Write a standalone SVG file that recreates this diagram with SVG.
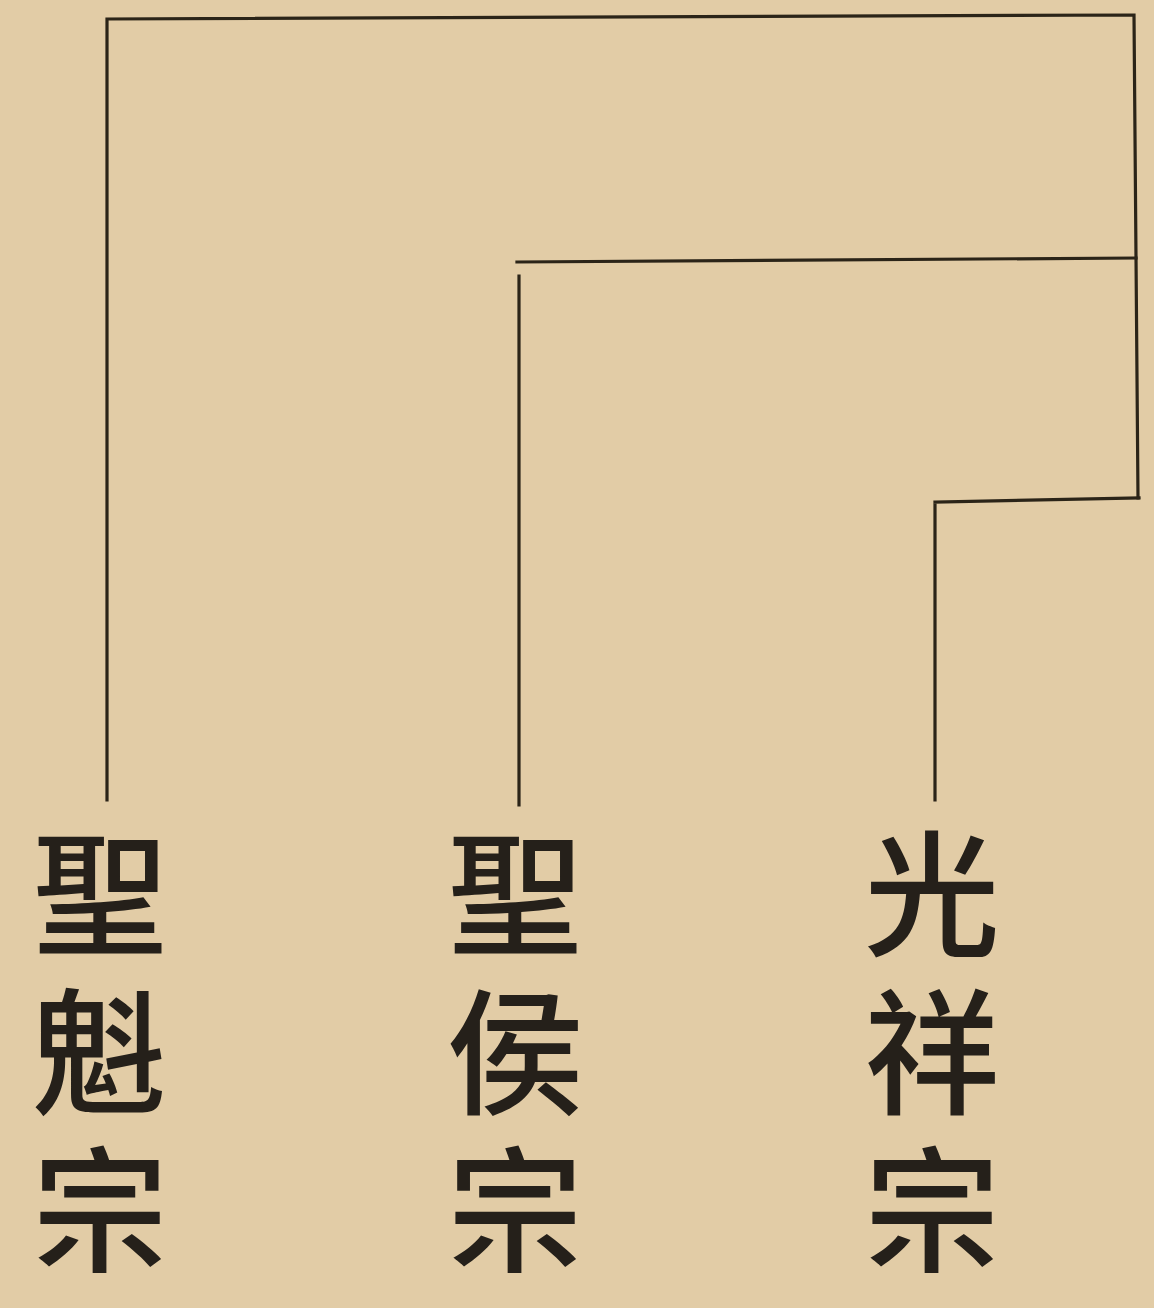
<svg xmlns="http://www.w3.org/2000/svg" width="1154" height="1308" viewBox="0 0 1154 1308">
<style>
.bg{fill:#e2cca6}
.ln{fill:none;stroke:#2b2418;stroke-width:3.2;stroke-linecap:square}
.t{font-family:"Noto Sans CJK TC","Noto Sans CJK SC",sans-serif;font-size:136px;font-weight:500;fill:#25201a;writing-mode:vertical-rl;text-orientation:upright;letter-spacing:22px}
</style>
<rect class="bg" x="0" y="0" width="1154" height="1308"/>
<g id="connectors">
<path class="ln" d="M107,800 L107,19 L1134,15 L1138,498"/>
<path class="ln" d="M519,805 L519,276"/>
<path class="ln" d="M517,262 L1136,258"/>
<path class="ln" d="M935,800 L935,505"/>
<path class="ln" d="M935,502 L1139,498"/>
</g>
<g id="node-shengkui">
<text class="t" x="100" y="826">聖魁宗</text>
</g>
<g id="node-shenghou">
<text class="t" x="515" y="826">聖侯宗</text>
</g>
<g id="node-guangxiang">
<text class="t" x="932" y="826">光祥宗</text>
</g>
</svg>
